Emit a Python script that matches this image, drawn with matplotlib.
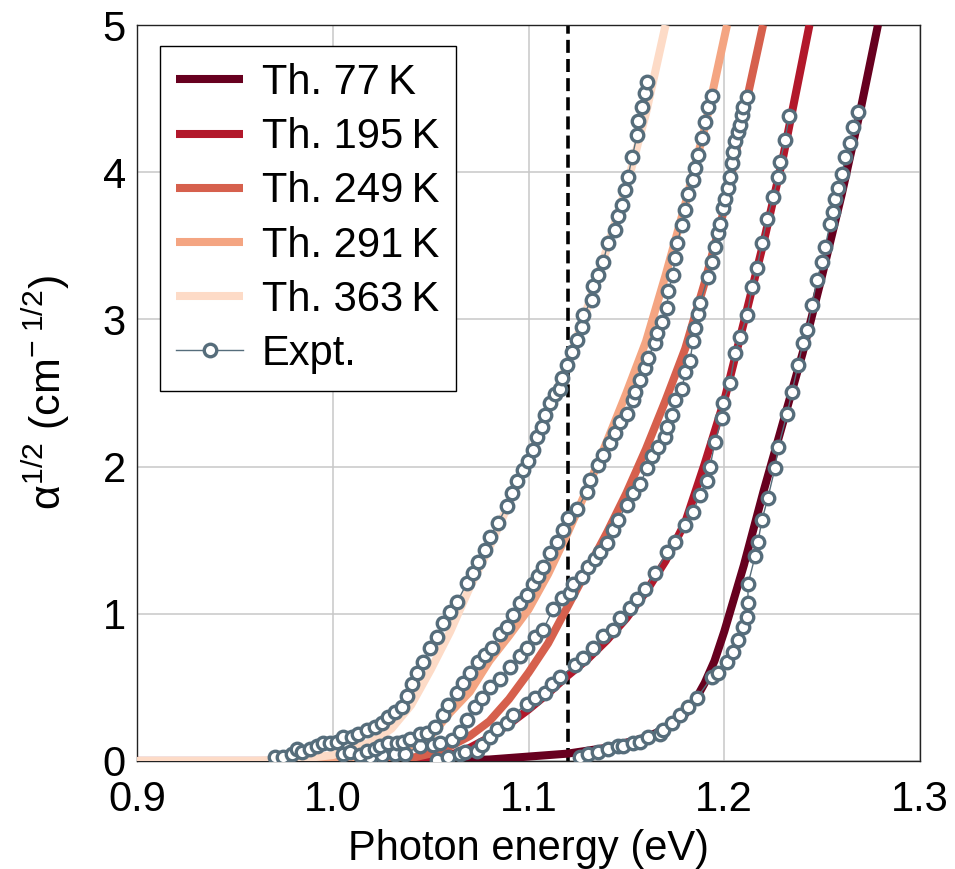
import matplotlib
matplotlib.use("Agg")
import matplotlib.pyplot as plt

plt.rcParams['font.family'] = ['Liberation Sans', 'DejaVu Sans']
plt.rcParams['mathtext.fontset'] = 'custom'
plt.rcParams['mathtext.rm'] = 'Liberation Sans'
plt.rcParams['mathtext.it'] = 'Liberation Sans:italic'
plt.rcParams['mathtext.sf'] = 'Liberation Sans'

# ---------------- data ----------------
temps = [77, 195, 249, 291, 363]
colors = ['#67001f', '#b2182b', '#d6604d', '#f4a582', '#fddbc7']

th77_x = [0.90, 1.05, 1.08, 1.10, 1.12, 1.14, 1.16, 1.17, 1.18, 1.185, 1.19, 1.195, 1.20, 1.21, 1.22, 1.23, 1.24, 1.25, 1.26, 1.27, 1.2785]
th77_y = [0.0, 0.0, 0.01, 0.03, 0.05, 0.09, 0.16, 0.22, 0.32, 0.41, 0.53, 0.68, 0.88, 1.33, 1.83, 2.3, 2.77, 3.3, 3.85, 4.45, 5.0]

th195_x = [0.90, 1.04, 1.05, 1.06, 1.07, 1.08, 1.09, 1.10, 1.11, 1.12, 1.13, 1.14, 1.15, 1.16, 1.17, 1.18, 1.19, 1.20, 1.21, 1.22, 1.23, 1.2435]
th195_y = [0.0, 0.0, 0.01, 0.04, 0.09, 0.16, 0.25, 0.35, 0.46, 0.58, 0.69, 0.82, 0.97, 1.15, 1.36, 1.62, 2.02, 2.45, 2.98, 3.52, 4.1, 5.0]

th249_x = [0.90, 1.03, 1.04, 1.05, 1.06, 1.07, 1.08, 1.09, 1.10, 1.11, 1.12, 1.13, 1.14, 1.15, 1.16, 1.17, 1.18, 1.19, 1.20, 1.21, 1.2198]
th249_y = [0.0, 0.0, 0.02, 0.05, 0.10, 0.17, 0.27, 0.42, 0.60, 0.80, 1.05, 1.30, 1.55, 1.82, 2.12, 2.45, 2.80, 3.25, 3.75, 4.40, 5.0]

th291_x = [0.90, 1.00, 1.02, 1.03, 1.04, 1.05, 1.06, 1.07, 1.08, 1.09, 1.10, 1.11, 1.12, 1.13, 1.14, 1.15, 1.16, 1.17, 1.18, 1.19, 1.2014]
th291_y = [0.0, 0.0, 0.02, 0.05, 0.10, 0.17, 0.33, 0.47, 0.68, 0.85, 1.03, 1.27, 1.55, 1.85, 2.17, 2.50, 2.85, 3.30, 3.78, 4.30, 5.0]

th363_x = [0.90, 0.96, 0.98, 1.00, 1.02, 1.03, 1.04, 1.05, 1.06, 1.07, 1.08, 1.09, 1.10, 1.11, 1.12, 1.13, 1.14, 1.15, 1.16, 1.17]
th363_y = [0.0, 0.0, 0.01, 0.04, 0.13, 0.22, 0.38, 0.62, 0.88, 1.18, 1.45, 1.75, 2.05, 2.38, 2.70, 3.08, 3.48, 3.90, 4.40, 5.0]

ex363_x = [0.9705, 0.9746, 0.9792, 0.9817, 0.9843, 0.9884, 0.9920, 0.9950, 0.9986, 1.0022, 1.0052, 1.0098, 1.0129,
           1.0175, 1.0216, 1.0252, 1.0282, 1.0318, 1.0354, 1.0379, 1.0405, 1.0430, 1.0461, 1.0497, 1.0533, 1.0563,
           1.0599, 1.0635, 1.0686, 1.0716, 1.0742, 1.0778, 1.0803, 1.0844, 1.0890, 1.0916, 1.0941, 1.0972, 1.0997,
           1.1023, 1.1043, 1.1069, 1.1084, 1.1110, 1.1135, 1.1161, 1.1171, 1.1197, 1.1222, 1.1248, 1.1273, 1.1278,
           1.1324, 1.1330, 1.1355, 1.1381, 1.1406, 1.1442, 1.1457, 1.1478, 1.1493, 1.1508, 1.1529, 1.1554, 1.1559,
           1.1580, 1.1595, 1.1605]
ex363_y = [0.03, 0.03, 0.05, 0.08, 0.06, 0.08, 0.10, 0.12, 0.12, 0.13, 0.16, 0.16, 0.18,
           0.21, 0.23, 0.26, 0.30, 0.33, 0.37, 0.44, 0.52, 0.60, 0.67, 0.77, 0.84, 0.94,
           1.01, 1.08, 1.21, 1.28, 1.35, 1.43, 1.52, 1.62, 1.73, 1.82, 1.90, 1.98, 2.04,
           2.11, 2.20, 2.27, 2.35, 2.43, 2.49, 2.53, 2.60, 2.69, 2.78, 2.86, 2.95, 3.03,
           3.13, 3.23, 3.30, 3.39, 3.52, 3.61, 3.70, 3.78, 3.88, 3.97, 4.10, 4.25, 4.35,
           4.44, 4.54, 4.61]

ex291_x = [1.0052, 1.0088, 1.0139, 1.0175, 1.0216, 1.0241, 1.0282, 1.0328, 1.0359, 1.0395, 1.0446, 1.0481, 1.0522,
           1.0563, 1.0589, 1.0635, 1.0665, 1.0701, 1.0742, 1.0778, 1.0814, 1.0854, 1.0890, 1.0921, 1.0957, 1.0992,
           1.1023, 1.1049, 1.1074, 1.1110, 1.1146, 1.1176, 1.1202, 1.1248, 1.1299, 1.1314, 1.1355, 1.1381, 1.1416,
           1.1442, 1.1467, 1.1503, 1.1534, 1.1544, 1.1570, 1.1595, 1.1610, 1.1646, 1.1656, 1.1682, 1.1708, 1.1713,
           1.1738, 1.1748, 1.1759, 1.1784, 1.1800, 1.1815, 1.1840, 1.1851, 1.1866, 1.1886, 1.1902, 1.1917, 1.1937]
ex291_y = [0.05, 0.06, 0.04, 0.07, 0.08, 0.10, 0.12, 0.12, 0.13, 0.15, 0.18, 0.19, 0.23,
           0.31, 0.38, 0.46, 0.53, 0.60, 0.67, 0.72, 0.77, 0.86, 0.91, 0.99, 1.07, 1.13,
           1.20, 1.26, 1.32, 1.41, 1.49, 1.57, 1.65, 1.71, 1.83, 1.91, 2.01, 2.08, 2.16,
           2.23, 2.30, 2.36, 2.45, 2.51, 2.59, 2.67, 2.74, 2.84, 2.91, 2.98, 3.08, 3.19,
           3.30, 3.42, 3.52, 3.64, 3.74, 3.85, 3.95, 4.03, 4.12, 4.23, 4.34, 4.44, 4.52]

ex249_x = [1.0190, 1.0252, 1.0318, 1.0369, 1.0446, 1.0512, 1.0548, 1.0609, 1.0650, 1.0686, 1.0727, 1.0762, 1.0803,
           1.0854, 1.0905, 1.0957, 1.0992, 1.1033, 1.1074, 1.1125, 1.1171, 1.1212, 1.1227, 1.1273, 1.1304, 1.1340,
           1.1365, 1.1401, 1.1432, 1.1457, 1.1503, 1.1534, 1.1570, 1.1605, 1.1631, 1.1662, 1.1697, 1.1708, 1.1733,
           1.1748, 1.1784, 1.1800, 1.1825, 1.1840, 1.1851, 1.1866, 1.1876, 1.1917, 1.1937, 1.1953, 1.1968, 1.1978,
           1.1994, 1.2004, 1.2019, 1.2029, 1.2040, 1.2045, 1.2055, 1.2070, 1.2080, 1.2091, 1.2096, 1.2116]
ex249_y = [0.03, 0.04, 0.05, 0.05, 0.10, 0.11, 0.12, 0.14, 0.20, 0.28, 0.37, 0.43, 0.50,
           0.56, 0.64, 0.71, 0.77, 0.84, 0.89, 1.03, 1.11, 1.14, 1.20, 1.25, 1.32, 1.37,
           1.42, 1.48, 1.57, 1.64, 1.74, 1.82, 1.88, 1.99, 2.07, 2.13, 2.20, 2.27, 2.35,
           2.45, 2.53, 2.64, 2.72, 2.85, 2.94, 3.04, 3.11, 3.29, 3.39, 3.49, 3.59, 3.65,
           3.76, 3.82, 3.89, 3.97, 4.06, 4.14, 4.21, 4.27, 4.32, 4.39, 4.44, 4.51]

ex195_x = [1.0533, 1.0589, 1.0650, 1.0676, 1.0737, 1.0762, 1.0803, 1.0839, 1.0890, 1.0921, 1.0992, 1.1033, 1.1084,
           1.1120, 1.1161, 1.1238, 1.1278, 1.1330, 1.1381, 1.1432, 1.1467, 1.1519, 1.1554, 1.1595, 1.1646, 1.1708,
           1.1748, 1.1799, 1.1840, 1.1876, 1.1912, 1.1927, 1.1953, 1.1988, 1.1994, 1.2029, 1.2055, 1.2080, 1.2116,
           1.2142, 1.2167, 1.2193, 1.2218, 1.2249, 1.2275, 1.2285, 1.2310, 1.2331]
ex195_y = [0.01, 0.03, 0.05, 0.06, 0.07, 0.11, 0.16, 0.22, 0.26, 0.31, 0.39, 0.43, 0.46,
           0.52, 0.57, 0.65, 0.70, 0.77, 0.85, 0.89, 0.97, 1.04, 1.10, 1.17, 1.28, 1.42,
           1.49, 1.60, 1.69, 1.81, 1.90, 2.00, 2.17, 2.33, 2.43, 2.57, 2.77, 2.88, 3.03,
           3.22, 3.35, 3.52, 3.68, 3.83, 3.97, 4.07, 4.22, 4.38]

ex77_x = [1.1263, 1.1304, 1.1355, 1.1406, 1.1457, 1.1483, 1.1534, 1.1570, 1.1610, 1.1672, 1.1687, 1.1733, 1.1774,
          1.1815, 1.1861, 1.1937, 1.1968, 1.2014, 1.2045, 1.2070, 1.2096, 1.2116, 1.2121, 1.2121, 1.2157, 1.2172,
          1.2193, 1.2223, 1.2259, 1.2275, 1.2321, 1.2346, 1.2377, 1.2402, 1.2423, 1.2448, 1.2474, 1.2499, 1.2515,
          1.2540, 1.2556, 1.2566, 1.2581, 1.2602, 1.2617, 1.2642, 1.2658, 1.2683]
ex77_y = [0.03, 0.05, 0.06, 0.08, 0.10, 0.10, 0.12, 0.13, 0.16, 0.18, 0.21, 0.26, 0.31,
          0.37, 0.43, 0.57, 0.60, 0.67, 0.74, 0.82, 0.91, 0.98, 1.07, 1.20, 1.39, 1.49,
          1.64, 1.79, 1.99, 2.13, 2.36, 2.51, 2.69, 2.84, 2.93, 3.10, 3.27, 3.39, 3.49,
          3.65, 3.73, 3.82, 3.89, 3.99, 4.10, 4.20, 4.31, 4.41]

gap_energy = 1.12
x_ticks = [0.9, 1.0, 1.1, 1.2, 1.3]
y_ticks = [0, 1, 2, 3, 4, 5]

theory = [(th77_x, th77_y), (th195_x, th195_y), (th249_x, th249_y), (th291_x, th291_y), (th363_x, th363_y)]
expt = [(ex77_x, ex77_y), (ex195_x, ex195_y), (ex249_x, ex249_y), (ex291_x, ex291_y), (ex363_x, ex363_y)]

# ---------------- plot ----------------
FS = 30
fig = plt.figure(figsize=(9.55, 8.69), dpi=100)
ax = fig.add_axes([0.1435, 0.1243, 0.8199, 0.8469])

ax.axvline(gap_energy, color='black', lw=2.6, ls=(0, (3.6, 1.7)), zorder=2)

for (tx, ty), t, c in zip(theory, temps, colors):
    ax.plot(tx, ty, color=c, lw=5.8, solid_capstyle='butt', solid_joinstyle='round',
            zorder=3, label='Th. %d\u2009K' % t)

expt_color = '#566d7b'
for i, (ex, ey) in enumerate(expt):
    ax.plot(ex, ey, color=expt_color, lw=1.0, marker='o', ms=9.0, mfc='white',
            mec=expt_color, mew=2.4, zorder=5, label='Expt.' if i == 0 else None)

ax.set_xlim(0.9, 1.3)
ax.set_ylim(0, 5)
ax.set_xticks(x_ticks)
ax.set_xticklabels(['%.1f' % v for v in x_ticks])
ax.set_yticks(y_ticks)
ax.grid(True, color='#c8c8c8', lw=1.1, zorder=0)
ax.set_axisbelow(True)
ax.tick_params(labelsize=FS, length=0)
ax.tick_params(axis='x', pad=14)
ax.tick_params(axis='y', pad=8)
for s in ax.spines.values():
    s.set_linewidth(1.0)
    s.set_color('#222222')

ax.set_xlabel('Photon energy (eV)', fontsize=FS, labelpad=6)
ax.set_ylabel(r'α$^{1/2}$ (cm$^{-\ 1/2}$)', fontsize=31, labelpad=22)

handles, labels = ax.get_legend_handles_labels()
leg = ax.legend(handles, labels, loc='upper left', bbox_to_anchor=(0.029, 0.971),
                fontsize=FS, frameon=True, fancybox=False, edgecolor='black',
                framealpha=1, numpoints=1, handlelength=1.6, handletextpad=0.45,
                labelspacing=0.34, borderpad=0.4, borderaxespad=0)
leg.get_frame().set_linewidth(1.0)

fig.savefig('out.png', dpi=100)
